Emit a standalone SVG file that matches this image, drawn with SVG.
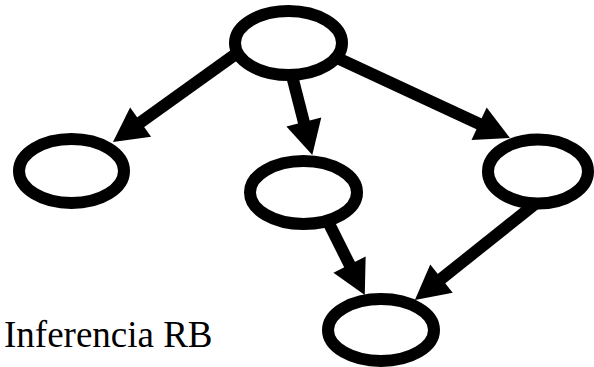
<svg xmlns="http://www.w3.org/2000/svg" width="594" height="367" viewBox="0 0 594 367">
  <style>
    .node { fill: #fff; stroke: #000; stroke-width: 12; }
    .edge { fill: none; stroke: #000; stroke-width: 12; marker-end: url(#head); }
    .label { font-family: "Liberation Serif", "Times New Roman", serif; font-size: 37px; fill: #000; }
  </style>
  <defs>
    <marker id="head" markerUnits="userSpaceOnUse" orient="auto" refX="0" refY="0" markerWidth="40" markerHeight="40" overflow="visible">
      <path d="M-1,-18 L33,0 L-1,18 Z" fill="#000"/>
    </marker>
  </defs>

  <!-- connectors: each line stops at the base of its arrowhead -->
  <g id="edges">
    <line class="edge" x1="240" y1="51" x2="139.8" y2="122.8"/>
    <line class="edge" x1="290" y1="68" x2="304.1" y2="123"/>
    <line class="edge" x1="333" y1="56" x2="480" y2="124.2"/>
    <line class="edge" x1="324.7" y1="215" x2="350" y2="265.5"/>
    <line class="edge" x1="540" y1="200" x2="440.7" y2="279.3"/>
  </g>

  <g id="n-top"><ellipse class="node" cx="288.5" cy="43" rx="53.5" ry="32"/></g>
  <g id="n-left"><ellipse class="node" cx="71.5" cy="171" rx="52.5" ry="32"/></g>
  <g id="n-middle"><ellipse class="node" cx="303.5" cy="192.5" rx="53.5" ry="31.5"/></g>
  <g id="n-right"><ellipse class="node" cx="538" cy="171.5" rx="50" ry="32"/></g>
  <g id="n-bottom"><ellipse class="node" cx="381" cy="330" rx="53" ry="31"/></g>

  <text class="label" x="4" y="347">Inferencia RB</text>
</svg>
